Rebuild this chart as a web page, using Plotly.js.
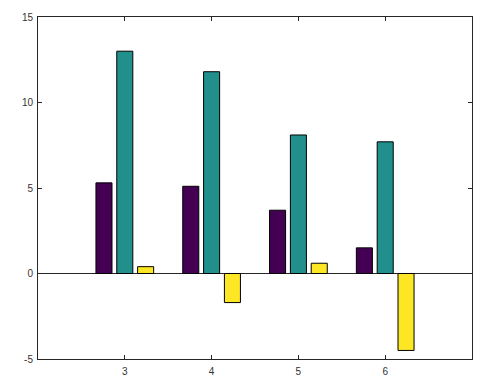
<!DOCTYPE html>
<html>
<head>
<meta charset="utf-8">
<script src="https://cdn.plot.ly/plotly-3.0.1.min.js"></script>
<style>html,body{margin:0;padding:0;background:#fff;}#chart{width:501px;height:390px;}</style>
</head>
<body>
<div id="chart"></div>
<script>
const categories = [3, 4, 5, 6];
const series1 = [5.3, 5.1, 3.7, 1.5];
const series2 = [13.0, 11.8, 8.1, 7.7];
const series3 = [0.4, -1.7, 0.6, -4.5];
const xTicks = [3, 4, 5, 6];
const yTicks = [-5, 0, 5, 10, 15];

const colors = ['#440154', '#21908d', '#fde725'];
const allSeries = [series1, series2, series3];
const traces = allSeries.map((vals, i) => ({
  type: 'bar',
  x: categories,
  y: vals,
  marker: {color: colors[i], line: {color: '#000', width: 1}},
  hoverinfo: 'none'
}));

const axisCommon = {
  showline: true, linecolor: '#262626', linewidth: 1, mirror: 'ticks',
  ticks: 'inside', ticklen: 4, tickcolor: '#262626', tickwidth: 1,
  showgrid: false,
  tickfont: {family: 'Liberation Sans, Arial, sans-serif', size: 10, color: '#333'}
};

const layout = {
  width: 501, height: 390,
  margin: {l: 38, r: 29, t: 17, b: 31, pad: 0},
  paper_bgcolor: '#fff', plot_bgcolor: '#fff',
  showlegend: false,
  barmode: 'group', bargap: 0.28, bargroupgap: 0.23,
  xaxis: Object.assign({}, axisCommon, {range: [2, 7], tickvals: xTicks, ticktext: xTicks.map(String), zeroline: false, ticklabelstandoff: 3}),
  yaxis: Object.assign({}, axisCommon, {range: [-5, 15], tickvals: yTicks, ticktext: yTicks.map(String), zeroline: true, zerolinecolor: '#262626', zerolinewidth: 1, ticklabelstandoff: 2})
};

Plotly.newPlot('chart', traces, layout, {staticPlot: true});
</script>
</body>
</html>
